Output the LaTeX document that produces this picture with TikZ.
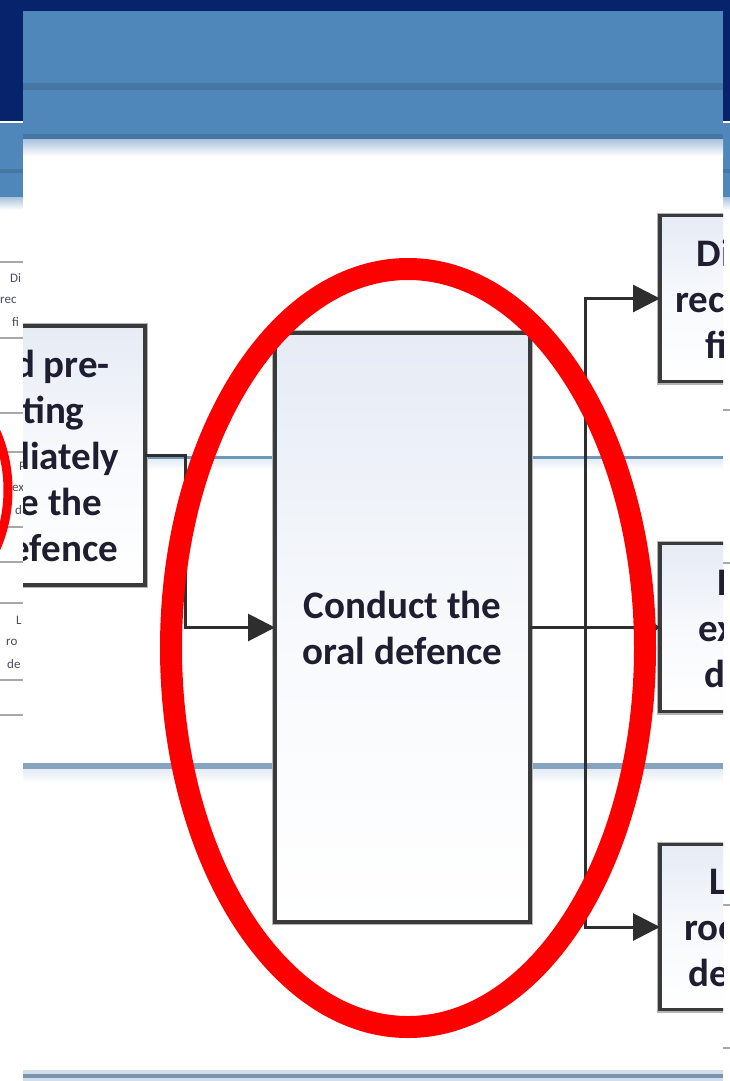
\documentclass[tikz,border=0pt]{standalone}
\usepackage{fontspec}
\setmainfont{Carlito}
\usetikzlibrary{positioning,arrows.meta}
\definecolor{navybg}{HTML}{07236B}
\definecolor{panelblue}{HTML}{4F87BA}
\definecolor{panelline}{HTML}{4676A2}
\definecolor{panelfade}{HTML}{A9C2DC}
\definecolor{rowline}{HTML}{86A4C0}
\definecolor{rowthin}{HTML}{7096B8}
\definecolor{rowfade}{HTML}{E4ECF5}
\definecolor{boxgrey}{HTML}{3A3A3A}
\definecolor{boxhalo}{HTML}{B4B4B4}
\definecolor{boxtop}{HTML}{E6EBF5}
\definecolor{boxmid}{HTML}{F7F9FC}
\definecolor{boxtext}{HTML}{1E1E30}
\definecolor{linegrey}{HTML}{2E2E2E}
\definecolor{stripline}{HTML}{A8A8A8}
\tikzset{procbox/.style={draw=boxgrey, line width=3.5pt, outer sep=0pt, top color=boxtop, bottom color=white, middle color=boxmid, text=boxtext, align=center, font=\bfseries\fontsize{39}{46}\selectfont, preaction={draw=boxhalo, line width=6pt}}}
\tikzset{flowline/.style={draw=linegrey, line width=3pt}}
\tikzset{flowarrow/.style={flowline, -{Triangle[length=27pt,width=27pt]}}}
\tikzset{fragtext/.style={anchor=west, inner sep=0pt, text=boxtext!80, font=\fontsize{13}{13}\selectfont}}

\begin{document}
\begin{tikzpicture}[x=1pt, y=-1pt]
\useasboundingbox (0,0) rectangle (730,1081);
% slide underneath
\fill[white] (0,0) rectangle (730,1081);
\fill[navybg] (0,0) rectangle (730,121);
\fill[panelblue] (0,123) rectangle (730,197);
\fill[panelline] (0,169) rectangle (730,173);
\shade[top color=panelfade, bottom color=white] (0,197) rectangle (730,210);
\foreach \yy in {262,338,413,452,527,562,603,680,715}
  \draw[stripline, line width=1.5pt] (0,\yy) -- (30,\yy);
\foreach \yy in {410,563,905,1048}
  \draw[stripline, line width=1.5pt] (715,\yy) -- (730,\yy);
\node[fragtext] (fa) at (10,278) {Di};
\node[fragtext] (fb) at (0,300) {rec};
\node[fragtext] (fc) at (12,322) {fi};
\node[fragtext] (fd) at (19,466) {P};
\node[fragtext] (fe) at (12,488) {ex};
\node[fragtext] (ff) at (15,510) {d};
\node[fragtext] (fg) at (16,620) {L};
\node[fragtext] (fh) at (6,642) {ro};
\node[fragtext] (fi) at (7,664) {de};
\draw[red, line width=9pt] (-100,490) ellipse [x radius=108, y radius=127];
% front slide
\begin{scope}
\clip (23,11) rectangle (723,1081);
\fill[white] (23,11) rectangle (723,1081);
\fill[panelblue] (23,11) rectangle (723,137);
\fill[panelline] (23,83) rectangle (723,90);
\fill[panelline] (23,134) rectangle (723,139);
\shade[top color=panelfade, bottom color=white] (23,139) rectangle (723,156);
% table rows
\shade[top color=rowfade, bottom color=white] (23,459) rectangle (723,470);
\fill[rowthin] (23,456) rectangle (723,459);
\shade[top color=rowfade, bottom color=white] (23,769) rectangle (723,783);
\fill[rowline] (23,763) rectangle (723,769);
\fill[rowfade!80!rowline] (23,1070) rectangle (723,1081);
\fill[rowline!90!black] (23,1074) rectangle (723,1078);

\node[procbox, minimum width=255pt, minimum height=589pt] (oral) at (402.5,627.5) {Conduct the\\oral defence};
\node[procbox, minimum width=254pt, minimum height=259pt, left=130pt of oral, yshift=172pt] (pre) {Attend pre-\\meeting\\immediately\\before the\\oral defence};
\node[procbox, minimum width=254pt, minimum height=168pt, right=130pt of oral] (res2) {Hold the\\examiners'\\discussion};
\node[procbox, minimum width=254pt, minimum height=166pt, above=162pt of res2] (res1) {Discuss the\\recommend a\\final mark};
\node[procbox, minimum width=254pt, minimum height=165pt, below=133pt of res2] (res3) {Leave the\\room for the\\deliberation};

\draw[flowarrow] (pre.east) -- ++(40,0) |- (oral.west);
\draw[flowline, -{Triangle[length=8pt,width=11pt]}] (oral.east) -- (res2.west);
\draw[flowarrow] (oral.east) ++(55,0) |- (res1.west);
\draw[flowarrow] (oral.east) ++(55,0) |- (res3.west);

\draw[red, line width=22pt] (408,648) ellipse [x radius=237, y radius=379];
\end{scope}
\end{tikzpicture}
\end{document}
